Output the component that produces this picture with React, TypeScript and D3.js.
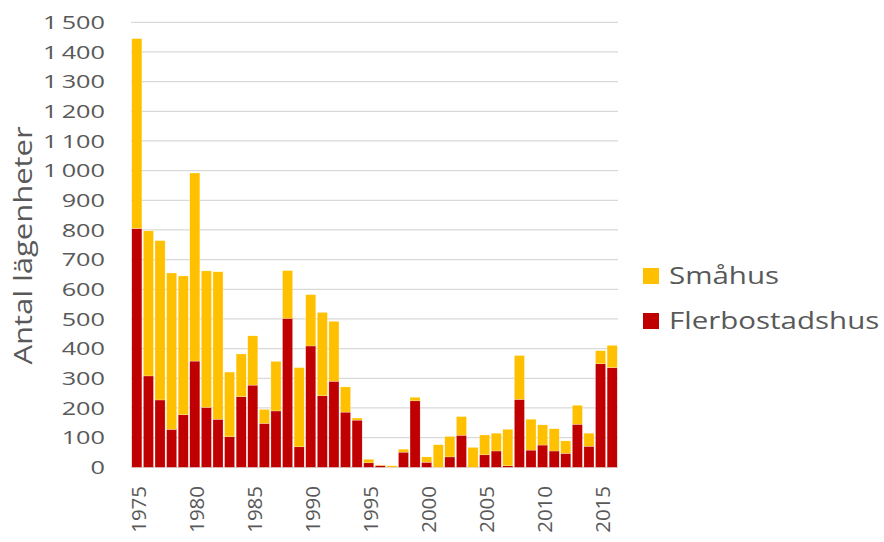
import React from "react";
import * as d3 from "d3";

const years = d3.range(1975, 2017).map(String);
const flerbostadshus = [805, 308, 227, 128, 177, 358, 202, 162, 103, 238, 277, 148, 190, 502, 69, 409, 241, 290, 186, 159, 15, 6, 0, 51, 224, 17, 0, 35, 108, 0, 42, 55, 5, 229, 58, 75, 55, 47, 145, 71, 349, 336];
const totals = [1445, 797, 764, 655, 645, 992, 662, 659, 321, 382, 443, 195, 357, 663, 336, 582, 522, 492, 271, 166, 27, 8, 5, 61, 236, 35, 76, 104, 171, 67, 109, 115, 128, 377, 162, 143, 130, 89, 209, 115, 393, 411];
const smahus = totals.map((t, i) => t - flerbostadshus[i]);
const yTicks = d3.range(0, 1501, 100);
const xTickYears = ["1975", "1980", "1985", "1990", "1995", "2000", "2005", "2010", "2015"];
const seriesNames = ["Flerbostadshus", "Småhus"];
const colors = { Flerbostadshus: "#C00000", "Småhus": "#FFC000" };

const W = 884, H = 542;
const M = { left: 131, right: 266, top: 22.3, bottom: 74.7 };
const FONT = "'Open Sans', sans-serif";
const TEXT = "#595959";

const fmt = (v: number) => (v >= 1000 ? `${Math.floor(v / 1000)}\u2009${String(v % 1000).padStart(3, "0")}` : String(v));

export default function App() {
  const x = d3.scaleBand().domain(years).range([M.left, W - M.right]).paddingInner(0.13).paddingOuter(0.07);
  const y = d3.scaleLinear().domain([0, 1500]).range([H - M.bottom, M.top]);
  const data = years.map((yr, i) => ({ year: yr, Flerbostadshus: flerbostadshus[i], "Småhus": smahus[i] }));
  const stack = d3.stack<any>().keys(seriesNames)(data);
  const legend = [
    { key: "Småhus", y: 276 },
    { key: "Flerbostadshus", y: 321 },
  ];
  return (
    <svg width={W} height={H} style={{ position: "absolute", left: 0, top: 0, background: "#fff" }} fontFamily={FONT}>
      {yTicks.map((t) => (
        <g key={t}>
          <line x1={M.left} x2={W - M.right} y1={y(t)} y2={y(t)} stroke="#D9D9D9" strokeWidth={1.2} />
          <text transform={`translate(105,${y(t)}) scale(1.33,1)`} dy="0.36em" textAnchor="end" fontSize={19} fill={TEXT}>{fmt(t)}</text>
        </g>
      ))}
      {stack.map((s) => (
        <g key={s.key} fill={(colors as any)[s.key]}>
          {s.map((d: any, i: number) => (
            <rect key={i} x={x(years[i])} width={x.bandwidth()} y={y(d[1])} height={Math.max(0, y(d[0]) - y(d[1]))} stroke="#fff" strokeWidth={0.4} strokeOpacity={0.6} />
          ))}
        </g>
      ))}
      {xTickYears.map((yr) => (
        <text key={yr} transform={`translate(${(x(yr) as number) + x.bandwidth() / 2 + 2},486) rotate(-90) scale(1.05,1)`} dy="0.36em" textAnchor="end" fontSize={19.5} fill={TEXT}>{yr}</text>
      ))}
      <text transform={`translate(32,245.5) rotate(-90) scale(1.19,1)`} textAnchor="middle" fontSize={26} fill={TEXT}>Antal lägenheter</text>
      {legend.map((l) => (
        <g key={l.key}>
          <rect x={643} y={l.y - 8} width={16} height={16} fill={(colors as any)[l.key]} />
          <text transform={`translate(669,${l.y}) scale(1.255,1)`} dy="0.36em" fontSize={23.5} fill={TEXT}>{l.key}</text>
        </g>
      ))}
    </svg>
  );
}
